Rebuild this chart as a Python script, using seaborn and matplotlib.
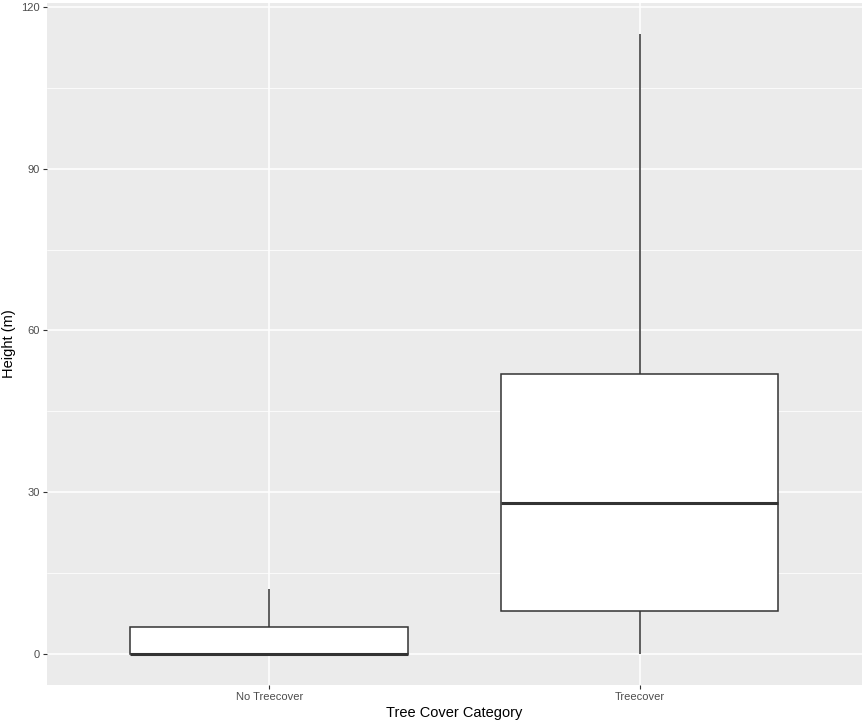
# boxplot of height by tree cover category (ggplot look)
import numpy as np
import pandas as pd
import seaborn as sns
import matplotlib.pyplot as plt

# summary values
categories = ["No Treecover", "Treecover"]
whisker_low = [0, 0]
q1 = [0, 8]
median = [0, 28]
q3 = [5, 52]
whisker_high = [12, 115]

# five points per group reproduce those quartiles exactly
rows = []
for i, cat in enumerate(categories):
    for v in [whisker_low[i], q1[i], median[i], q3[i], whisker_high[i]]:
        rows.append({"category": cat, "height": v})
df = pd.DataFrame(rows)

sns.set_theme(style="darkgrid", rc={
    "axes.facecolor": "#EBEBEB",
    "grid.color": "white",
    "axes.edgecolor": "#EBEBEB",
})
plt.rcParams["font.family"] = ["Liberation Sans", "DejaVu Sans"]

fig = plt.figure(figsize=(8.65, 7.24), dpi=100)
ax = fig.add_axes([0.0543, 0.054, 0.942, 0.942])

sns.boxplot(
    data=df, x="category", y="height", order=categories,
    color="white", linecolor="#333333", linewidth=1.1,
    width=0.75, whis=np.inf, showcaps=False,
    medianprops={"linewidth": 2.2, "color": "#333333"},
    ax=ax,
)

ax.set_xlim(-0.6, 1.6)
ax.set_ylim(-5.75, 120.75)
ax.set_yticks([0, 30, 60, 90, 120])
ax.set_yticks([15, 45, 75, 105], minor=True)
ax.grid(True, which="major", color="white", linewidth=1.1)
ax.grid(True, which="minor", axis="y", color="white", linewidth=0.55)
ax.set_axisbelow(True)
for s in ax.spines.values():
    s.set_visible(False)

ax.tick_params(axis="both", which="major", length=3, width=0.8, color="#333333",
               labelsize=8, labelcolor="#4D4D4D", pad=2, left=True, bottom=True)
ax.tick_params(axis="y", which="minor", length=0)

ax.set_xlabel("Tree Cover Category", fontsize=10.5, color="black", labelpad=3)
ax.set_ylabel("Height (m)", fontsize=10.5, color="black", labelpad=4)

fig.savefig("out.png", dpi=100)
